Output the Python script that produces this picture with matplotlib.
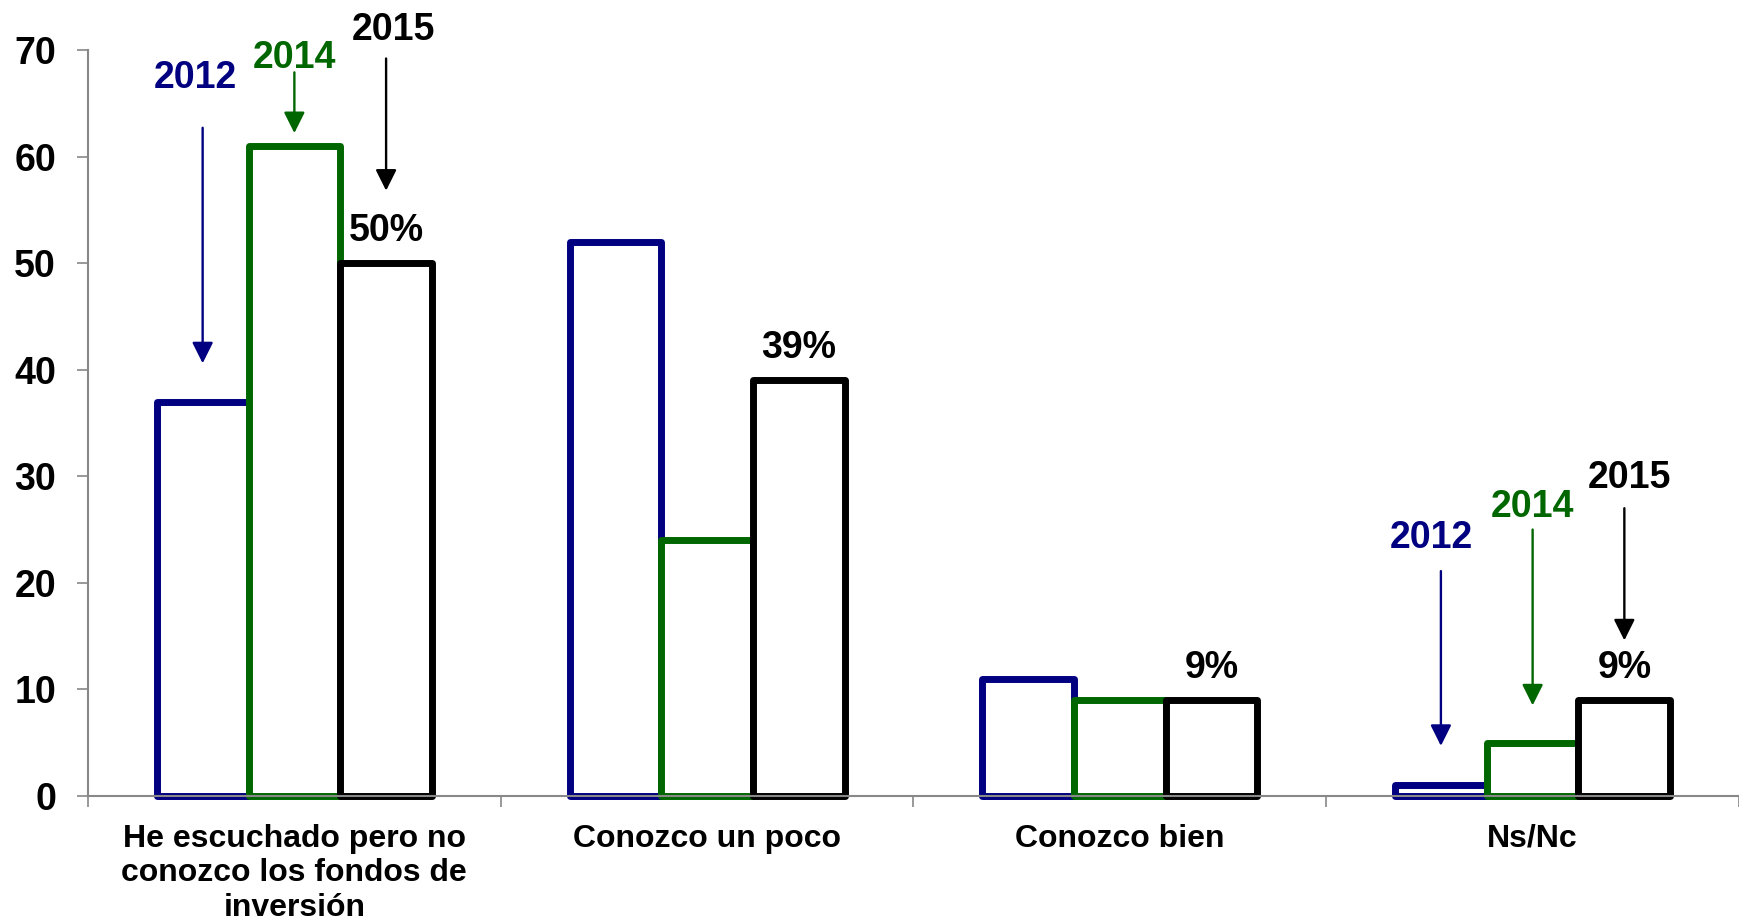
import matplotlib
matplotlib.use("Agg")
import matplotlib.pyplot as plt
import numpy as np

# Data
categories = ["He escuchado pero no\nconozco los fondos de\ninversión",
              "Conozco un poco", "Conozco bien", "Ns/Nc"]
years = ["2012", "2014", "2015"]
values_2012 = [37, 52, 11, 1]
values_2014 = [61, 24, 9, 5]
values_2015 = [50, 39, 9, 9]
colors = ["#000080", "#006600", "#000000"]

plt.rcParams["font.family"] = ["Liberation Sans", "DejaVu Sans"]
plt.rcParams["font.weight"] = "bold"

fig = plt.figure(figsize=(17.39, 9.22), dpi=100)
ax = fig.add_axes([0.0506, 0.1367, 0.9494, 0.8091])

x = np.arange(len(categories))
width = 1 / 4.5
offsets = [-width, 0, width]
series = [values_2012, values_2014, values_2015]

for vals, off, col in zip(series, offsets, colors):
    ax.bar(x + off, vals, width=width, facecolor="white", edgecolor=col,
           linewidth=5, joinstyle="round", clip_on=False, zorder=1)

# percent labels above the 2015 bars
for i, v in enumerate(values_2015):
    ax.text(x[i] + width, v + 3, f"{v}%", ha="center", va="center",
            fontsize=27, fontweight="bold", color="black")

# year call-outs with arrows, for the first and last categories
# (text x offset, text y, arrow start y, arrow end y)
callouts = {
    0: [(-0.24, 67.4, 62.7, 40.6), (0.0, 69.2, 67.9, 62.2), (0.24, 71.9, 69.2, 56.8)],
    3: [(-0.246, 24.2, 21.1, 4.7), (0.0, 27.1, 25.0, 8.5), (0.234, 29.8, 27.0, 14.6)],
}
for cat, items in callouts.items():
    for (tx, ty, a0, a1), yr, col, off in zip(items, years, colors, offsets):
        ax.text(cat + tx, ty, yr, ha="center", va="center", fontsize=27,
                fontweight="bold", color=col)
        ax.annotate("", xy=(cat + off, a1), xytext=(cat + off, a0),
                    arrowprops=dict(arrowstyle="-|>", color=col, lw=1.7,
                                    mutation_scale=32, shrinkA=0, shrinkB=0))

ax.set_ylim(0, 70)
ax.set_xlim(-0.5, len(categories) - 0.5)
ax.set_yticks(range(0, 71, 10))
ax.tick_params(axis="y", labelsize=27, length=8, width=1.2, color="#888888",
               pad=15)
for lab in ax.get_yticklabels():
    lab.set_fontweight("bold")

ax.set_xticks(np.arange(-0.5, len(categories), 1.0))
ax.set_xticklabels([])
ax.tick_params(axis="x", which="major", length=8, width=1.2, color="#888888")
ax.set_xticks(x, minor=True)
ax.set_xticklabels(categories, minor=True, fontsize=23, fontweight="bold",
                   linespacing=1.2, va="top")
ax.tick_params(axis="x", which="minor", length=0, pad=20)

for side in ["top", "right"]:
    ax.spines[side].set_visible(False)
for side in ["left", "bottom"]:
    ax.spines[side].set_color("#888888")
    ax.spines[side].set_linewidth(1.5)
    ax.spines[side].set_zorder(3)

fig.savefig("out.png", dpi=100)
